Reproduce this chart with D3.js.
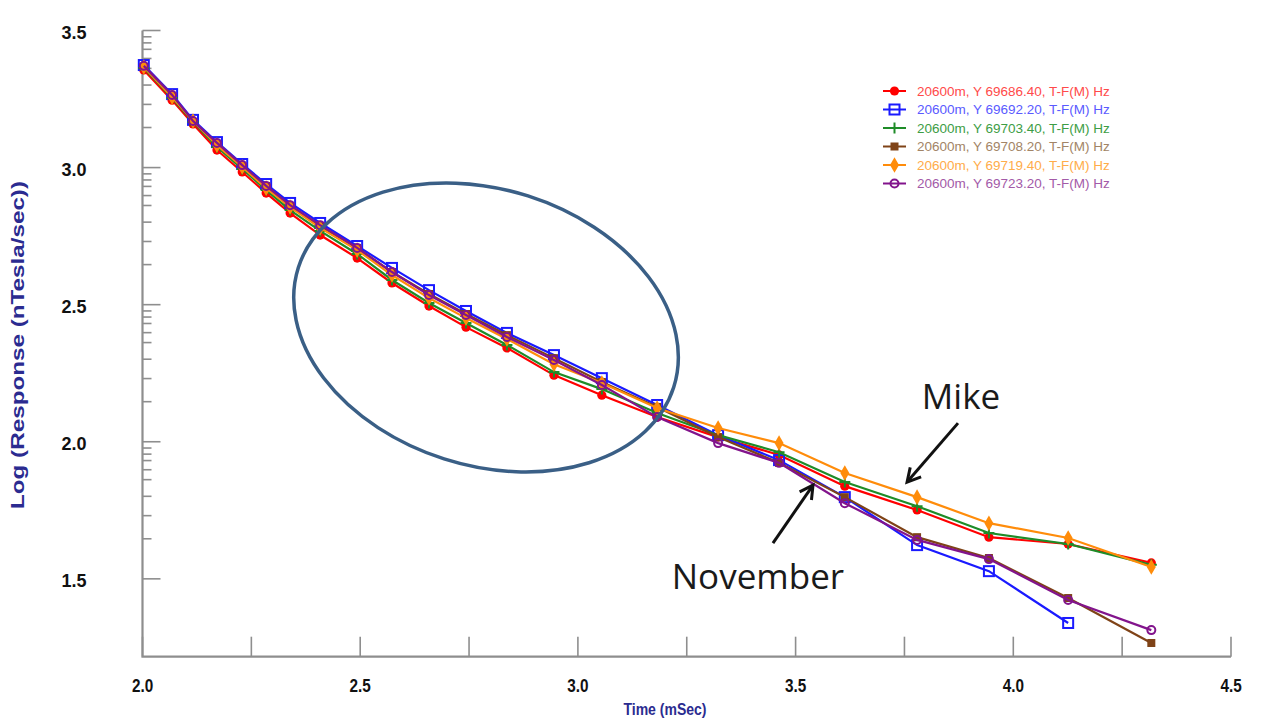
<!DOCTYPE html>
<html><head><meta charset="utf-8">
<script src="https://cdn.jsdelivr.net/npm/d3@7"></script>
<style>body{margin:0;background:#fff;} svg{display:block}</style>
</head><body><svg id="chart" width="1261" height="720"></svg>
<script>
// ---- data ----
const times = [2.003, 2.068, 2.116, 2.171, 2.229, 2.284, 2.339, 2.408, 2.493, 2.573, 2.658, 2.743, 2.837, 2.945, 3.055, 3.182, 3.322, 3.462, 3.613, 3.779, 3.944, 4.126, 4.317];
const seriesNames = ["20600m, Y 69686.40, T-F(M) Hz","20600m, Y 69692.20, T-F(M) Hz","20600m, Y 69703.40, T-F(M) Hz","20600m, Y 69708.20, T-F(M) Hz","20600m, Y 69719.40, T-F(M) Hz","20600m, Y 69723.20, T-F(M) Hz"];
const redY    = [3.356,3.246,3.159,3.064,2.984,2.907,2.834,2.754,2.670,2.579,2.495,2.418,2.342,2.243,2.170,2.090,2.017,1.952,1.838,1.751,1.652,1.627,1.558];
const blueY   = [3.374,3.268,3.174,3.093,3.013,2.940,2.871,2.798,2.714,2.634,2.553,2.477,2.397,2.316,2.232,2.134,2.024,1.933,1.798,1.623,1.528,1.339];
const greenY  = [3.363,3.254,3.166,3.075,2.995,2.918,2.845,2.769,2.685,2.590,2.506,2.433,2.353,2.254,2.192,2.105,2.024,1.962,1.853,1.765,1.667,1.627,1.551];
const brownY  = [3.367,3.261,3.166,3.086,3.006,2.933,2.860,2.787,2.707,2.619,2.539,2.466,2.389,2.305,2.218,2.127,2.017,1.923,1.798,1.652,1.576,1.430,1.266];
const orangeY = [3.367,3.257,3.170,3.082,3.002,2.925,2.856,2.780,2.699,2.608,2.524,2.451,2.375,2.283,2.214,2.123,2.050,1.995,1.886,1.798,1.703,1.649,1.543];
const purpleY = [3.371,3.265,3.170,3.090,3.009,2.933,2.863,2.790,2.707,2.619,2.535,2.462,2.382,2.298,2.207,2.090,1.995,1.923,1.776,1.642,1.572,1.423,1.313];
const xTickLabels = ["2.0","2.5","3.0","3.5","4.0","4.5"];
const yTickLabels = ["1.5","2.0","2.5","3.0","3.5"];
const yMinorMultiples = [1.4,1.7,2.0,2.3,2.5,2.7,2.85,3.0];
const xTitle = "Time (mSec)";
const yTitle = "Log (Response (nTesla/sec))";
const noteMike = {text:"Mike", tx:3.880, ty:2.119, ax0:3.873, ay0:2.068, ax1:3.756, ay1:1.853};
const noteNov  = {text:"November", tx:3.4135, ty:1.4627, ax0:3.448, ay0:1.630, ax1:3.540, ay1:1.842};
const ellipseNote = {cx:2.789, cy:2.417};

// ---- setup ----
const svg = d3.select("#chart");
const L=142.5, R=1231, T=30.5, B=656.7;
const x = d3.scaleLinear().domain([2.0,4.5]).range([L,R]);
const y = d3.scaleLinear().domain([1.216,3.5]).range([B,T]);
const axisColor = "#8e8e8e";

const series = [
  {name:seriesNames[0], ys:redY,    color:"#ff0000", text:"#ff4a4a", sym:"fcircle"},
  {name:seriesNames[1], ys:blueY,   color:"#1a1aff", text:"#5a5aff", sym:"osquare"},
  {name:seriesNames[2], ys:greenY,  color:"#1e8c28", text:"#3d9d45", sym:"plus"},
  {name:seriesNames[3], ys:brownY,  color:"#7f4317", text:"#a28466", sym:"fsquare"},
  {name:seriesNames[4], ys:orangeY, color:"#ff8c0a", text:"#ffac4a", sym:"diamond"},
  {name:seriesNames[5], ys:purpleY, color:"#82148c", text:"#a35aa8", sym:"ocircle"}
];

function drawSym(g, sym, color, cx, cy){
  if(sym==="fcircle") g.append("circle").attr("cx",cx).attr("cy",cy).attr("r",4.6).attr("fill",color);
  else if(sym==="ocircle") g.append("circle").attr("cx",cx).attr("cy",cy).attr("r",4).attr("fill","none").attr("stroke",color).attr("stroke-width",2);
  else if(sym==="osquare") g.append("rect").attr("x",cx-5).attr("y",cy-5).attr("width",10).attr("height",10).attr("fill","none").attr("stroke",color).attr("stroke-width",2);
  else if(sym==="fsquare") g.append("rect").attr("x",cx-4).attr("y",cy-4).attr("width",8).attr("height",8).attr("fill",color);
  else if(sym==="diamond") g.append("path").attr("d",d3.symbol(d3.symbolDiamond, 70)()).attr("transform",`translate(${cx},${cy})`).attr("fill",color);
  else if(sym==="plus") g.append("path").attr("d",`M${cx-5.5},${cy}H${cx+5.5}M${cx},${cy-5.5}V${cy+5.5}`).attr("stroke",color).attr("stroke-width",2);
}

// ---- axes ----
const ax = svg.append("g");
const xt = d3.range(0, 11).map(i => 2.0 + i*0.25);
ax.selectAll(".xt").data(xt).enter().append("line")
  .attr("x1",d=>x(d)).attr("x2",d=>x(d)).attr("y1",B).attr("y2",B-20)
  .attr("stroke",axisColor).attr("stroke-width",1.6);
const yMajors = yTickLabels.map(Number);
ax.selectAll(".ytM").data(yMajors).enter().append("line")
  .attr("x1",L).attr("x2",L+18).attr("y1",d=>y(d)).attr("y2",d=>y(d))
  .attr("stroke",axisColor).attr("stroke-width",1.6);
const yMinors = [];
[1.5,2.0,2.5,3.0].forEach(a => yMinorMultiples.forEach(m => yMinors.push(a+Math.log10(m))));
ax.selectAll(".ytm").data(yMinors).enter().append("line")
  .attr("x1",L).attr("x2",L+9).attr("y1",d=>y(d)).attr("y2",d=>y(d))
  .attr("stroke",axisColor).attr("stroke-width",1.6);
ax.append("path").attr("d",`M${L},${T}V${B}H${R}`).attr("fill","none").attr("stroke",axisColor).attr("stroke-width",2.2);

// tick labels
svg.selectAll(".xl").data(xTickLabels).enter().append("text")
  .attr("transform",d=>`translate(${x(+d)},692) scale(0.85,1)`).attr("text-anchor","middle")
  .attr("font-family","'Liberation Sans',Arial,sans-serif").attr("font-weight","bold").attr("font-size",18)
  .attr("fill","#111").text(d=>d);
svg.selectAll(".yl").data(yTickLabels).enter().append("text")
  .attr("x",74).attr("y",d=>y(+d)+8).attr("text-anchor","middle")
  .attr("font-family","'Liberation Sans',Arial,sans-serif").attr("font-weight","bold").attr("font-size",18)
  .attr("fill","#111").text(d=>d);

// titles
svg.append("text").attr("transform","translate(665,715) scale(0.85,1)").attr("text-anchor","middle")
  .attr("font-family","'Liberation Sans',Arial,sans-serif").attr("font-weight","bold").attr("font-size",16.5)
  .attr("fill","#2b2b90").text(xTitle);
svg.append("text").attr("transform","translate(24,345) rotate(-90)").attr("text-anchor","middle")
  .attr("font-family","'Liberation Sans',Arial,sans-serif").attr("font-weight","bold").attr("font-size",18)
  .attr("textLength",328).attr("lengthAdjust","spacingAndGlyphs")
  .attr("fill","#2b2b90").text(yTitle);

// ---- series ----
const line = d3.line().x(d=>x(d[0])).y(d=>y(d[1]));
series.forEach(s => {
  const pts = s.ys.map((v,i)=>[times[i], v]);
  const g = svg.append("g");
  g.append("path").attr("d",line(pts)).attr("fill","none").attr("stroke",s.color).attr("stroke-width",2.2);
  pts.forEach(p => drawSym(g, s.sym, s.color, x(p[0]), y(p[1])));
});

// ---- legend ----
const lg = svg.append("g");
series.forEach((s,i) => {
  const cy = 91 + i*18.5;
  lg.append("line").attr("x1",883).attr("x2",906).attr("y1",cy).attr("y2",cy).attr("stroke",s.color).attr("stroke-width",2);
  drawSym(lg, s.sym, s.color, 894.5, cy);
  lg.append("text").attr("x",917).attr("y",cy+4.5)
    .attr("font-family","'Liberation Sans',Arial,sans-serif").attr("font-size",13.5)
    .attr("fill",s.text).text(s.name);
});

// ---- annotations ----
svg.append("ellipse").attr("cx",0).attr("cy",0).attr("rx",197).attr("ry",138)
  .attr("transform",`translate(${x(ellipseNote.cx)},${y(ellipseNote.cy)}) rotate(17.7)`)
  .attr("fill","none").attr("stroke","#3a5f86").attr("stroke-width",3.5);

function arrow(n){
  const x0=x(n.ax0), y0=y(n.ay0), x1=x(n.ax1), y1=y(n.ay1);
  svg.append("line").attr("x1",x0).attr("y1",y0).attr("x2",x1).attr("y2",y1).attr("stroke","#111").attr("stroke-width",3);
  const ang = Math.atan2(y0-y1, x0-x1), len=15, spread=0.5;
  const p1=[x1+len*Math.cos(ang+spread), y1+len*Math.sin(ang+spread)];
  const p2=[x1+len*Math.cos(ang-spread), y1+len*Math.sin(ang-spread)];
  svg.append("path").attr("d",`M${p1[0]},${p1[1]}L${x1},${y1}L${p2[0]},${p2[1]}`)
    .attr("fill","none").attr("stroke","#111").attr("stroke-width",3).attr("stroke-linejoin","miter");
  svg.append("text").attr("x",x(n.tx)).attr("y",y(n.ty)).attr("text-anchor","middle")
    .attr("font-family","'Open Sans','Noto Sans',sans-serif").attr("font-size",35).attr("fill","#1a1a1a").text(n.text);
}
arrow(noteMike);
arrow(noteNov);
</script>
</body></html>
